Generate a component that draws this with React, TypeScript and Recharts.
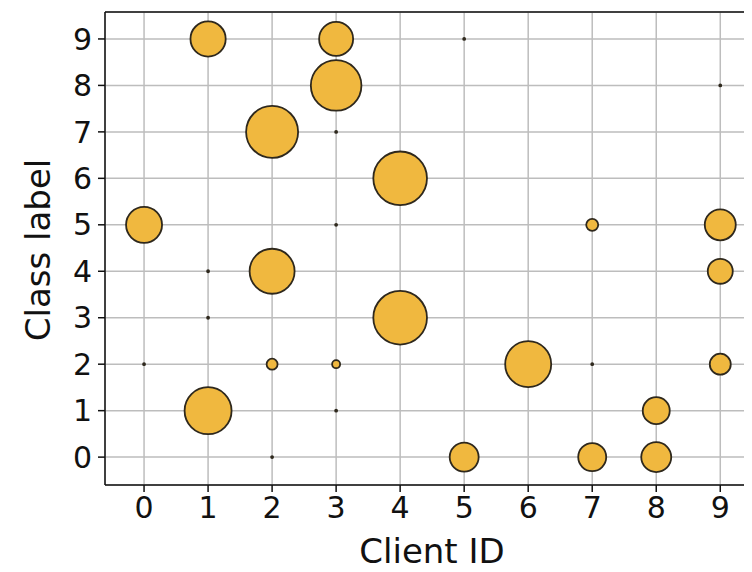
import React from 'react';
import {
  ScatterChart,
  Scatter,
  XAxis,
  YAxis,
  ZAxis,
  CartesianGrid,
  ReferenceLine,
} from 'recharts';

// tick labels
const clientTicks = [0, 1, 2, 3, 4, 5, 6, 7, 8, 9];
const classTicks = [0, 1, 2, 3, 4, 5, 6, 7, 8, 9];

// one entry per bubble: client id, class label, relative sample count
const pointClient = [0, 0, 1, 1, 1, 1, 2, 2, 2, 2, 3, 3, 3, 3, 3, 3, 4, 4, 5, 5, 6, 7, 7, 7, 8, 8, 9, 9, 9, 9];
const pointClass = [5, 2, 9, 1, 4, 3, 7, 4, 2, 0, 9, 8, 7, 5, 2, 1, 6, 3, 9, 0, 2, 5, 2, 0, 1, 0, 8, 5, 4, 2];
const pointSamples = [324, 1, 310, 552, 1, 1, 676, 506, 30, 1, 289, 640, 1, 1, 16, 1, 720, 720, 1, 210, 529, 36, 1, 196, 182, 225, 1, 240, 156, 110];

const data = pointClient.map((c, i) => ({
  client: c,
  label: pointClass[i],
  samples: pointSamples[i],
}));

const FONT = 'DejaVu Sans, sans-serif';
const tickStyle = { fontSize: 30, fill: '#111', fontFamily: FONT };

const App: React.FC = () => {
  return (
    <div style={{ width: 744, height: 564 }}>
      <ScatterChart width={744} height={564} margin={{ top: 4, right: 1, bottom: 0, left: 0 }}>
        <CartesianGrid stroke="#bdbdbd" strokeWidth={1.5} />
        <XAxis
          type="number"
          dataKey="client"
          domain={[-0.61, 9.48]}
          ticks={clientTicks}
          height={87}
          tickSize={7}
          tick={tickStyle}
          tickMargin={5}
          stroke="#111"
          strokeWidth={1.5}
          allowDataOverflow
        />
        <YAxis
          type="number"
          dataKey="label"
          domain={[-0.6, 9.58]}
          ticks={classTicks}
          width={97}
          tickSize={7}
          tick={tickStyle}
          tickMargin={6}
          stroke="#111"
          strokeWidth={1.5}
          allowDataOverflow
        />
        <ZAxis type="number" dataKey="samples" domain={[0, 729]} range={[0, 729 * Math.PI]} />
        <ReferenceLine y={9.58} stroke="#111" strokeWidth={1.5} />
        <Scatter
          data={data}
          fill="#F0B83F"
          stroke="#2e281d"
          strokeWidth={1.8}
          isAnimationActive={false}
        />
        <text x={424} y={555} textAnchor="middle" fontSize={34} fontFamily={FONT} fill="#111">
          Client ID
        </text>
        <text
          x={42}
          y={242}
          textAnchor="middle"
          fontSize={34}
          fontFamily={FONT}
          fill="#111"
          transform="rotate(-90 42 242)"
        >
          Class label
        </text>
      </ScatterChart>
    </div>
  );
};

export default App;
